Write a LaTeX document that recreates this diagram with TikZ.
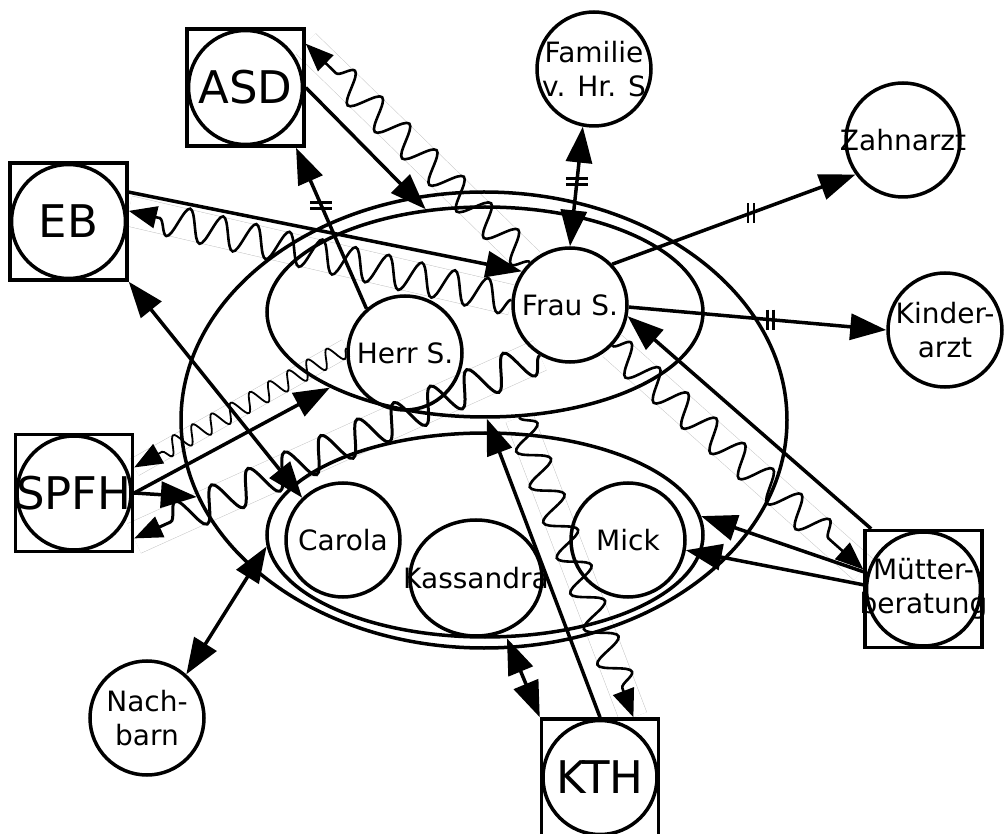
\documentclass[tikz,border=0pt]{standalone}
\usepackage{fontspec}
\setmainfont{DejaVu Sans}
\usetikzlibrary{positioning, calc, shapes.geometric, arrows.meta, decorations.pathmorphing, backgrounds}

\begin{document}
\begin{tikzpicture}[x=1pt, y=-1pt, line width=3.5pt]
    % Define styles
    \tikzstyle{person} = [circle, draw, minimum size=114pt, inner sep=-20pt, align=center, font=\fontsize{28}{34}\selectfont]
    \tikzstyle{amt} = [rectangle, draw, minimum size=117pt, inner sep=-10pt, align=center, font=\fontsize{45}{50}\selectfont,
        path picture={\draw[line width=3.5pt] (path picture bounding box.center) circle (57pt);}]
    \tikzstyle{group} = [ellipse, draw, inner sep=0pt]
    \tikzstyle{rel} = [-{Triangle[length=36pt, width=26pt]}]
    \tikzstyle{both} = [{Triangle[length=36pt, width=26pt]}-{Triangle[length=36pt, width=26pt]}]
    \tikzstyle{conflict} = [decorate, line width=2.6pt, -{Triangle[length=28pt, width=22pt]},
        decoration={snake, amplitude=15pt, segment length=38pt, post length=28pt}]
    \tikzstyle{band} = [draw=gray!45, line width=0.5pt, double=white, double distance=28pt]
    \tikzstyle{bar} = [line width=3pt]

    \useasboundingbox (0,0) rectangle (1005,834);

    % Place groups
    \node [group, minimum width=606pt, minimum height=456pt] (familie) at (484,420) {};
    \node [group, minimum width=436pt, minimum height=210pt] (eltern) at (485,312) {};
    \node [group, minimum width=436pt, minimum height=204pt] (kinder) at (485,535) {};

    % Place nodes
    \node [person] (frau) at (570,305) {Frau S.};
    \node [person] (herr) at (405,353) {Herr S.};
    \node [person] (carola) at (343,540) {Carola};
    \node [ellipse, draw, minimum width=132pt, minimum height=116pt, inner xsep=-30pt, inner ysep=0pt,
        font=\fontsize{28}{34}\selectfont] (kassandra) at (476,578) {Kassandra};
    \node [person] (mick) at (628,540) {Mick};
    \node [person] (famhrs) at (594,69) {Familie\\v. Hr. S};
    \node [person] (zahnarzt) at (903,140) {Zahnarzt};
    \node [person] (kinderarzt) at (945,330) {Kinder-\\arzt};
    \node [person] (nachbarn) at (147,718) {Nach-\\barn};

    \node [amt] (asd) at (245.5,87.5) {ASD};
    \node [amt] (eb) at (68.5,221.5) {EB};
    \node [amt] (spfh) at (74,493) {SPFH};
    \node [amt] (kth) at (600,777.5) {KTH};
    \node [amt, font=\fontsize{28}{34}\selectfont] (mb) at (923.5,589) {Mütter-\\beratung};

    % Draw connections as arrows
    \draw [rel] (asd.east) -- (eltern.120);
    \draw [rel] (herr.131) -- coordinate[pos=0.64] (m1) (asd.-50);
    \draw [both] (famhrs.-101) -- coordinate[pos=0.46] (m2) (frau.north);
    \draw [rel] (frau.44) -- coordinate[pos=0.57] (m3) (zahnarzt.-144);
    \draw [rel] (frau.-2) -- coordinate[pos=0.55] (m4) (kinderarzt.west);
    \draw [rel] (eb.26) -- (frau.145);
    \draw [both] (eb.south east) -- (carola.134);
    \draw [rel] (spfh.east) -- (eltern.206);
    \draw [rel] (spfh.east) -- (familie.195);
    \draw [rel] (mb.131) -- (frau.-11);
    \draw [rel] (mb.164) -- (kinder.5);
    \draw [rel] (mb.176) -- (mick.-10);
    \draw [rel] (kth.north) -- (eltern.-89);
    \draw [both] (kinder.-78) -- (kth.north west);
    \draw [both] (nachbarn.48) -- (kinder.183);

    % Marks on the arrows
    \draw [bar] ($(m1)+(-11,-3)$) -- +(22,0) ($(m1)+(-11,3)$) -- +(22,0);
    \draw [bar] ($(m2)+(-11,-3)$) -- +(22,0) ($(m2)+(-11,3)$) -- +(22,0);
    \draw [bar, line width=2.6pt] ($(m3)+(-3,-10)$) -- +(0,20) ($(m3)+(3,-10)$) -- +(0,20);
    \draw [bar, line width=2.6pt] ($(m4)+(-3,-10)$) -- +(0,20) ($(m4)+(3,-10)$) -- +(0,20);

    % Conflict lines
    \draw [conflict] (frau.133) -- (asd.36);
    \draw [conflict, decoration={amplitude=16pt, segment length=34pt}] (frau.175) -- (eb.10);
    \draw [conflict, line width=1.8pt, decoration={amplitude=9pt, segment length=22pt}] (herr.175) -- (spfh.23);
    \draw [conflict, line width=3pt, decoration={amplitude=17pt, segment length=40pt}] (frau.-121) -- (spfh.-37);
    \draw [conflict] (frau.-44) -- (mb.162);
    \draw [conflict] (eltern.-72) -- (kth.61);

    \begin{scope}[on background layer]
        \draw [band] (frau.133) -- (asd.36);
        \draw [band, double distance=30pt] (frau.175) -- (eb.10);
        \draw [band, double distance=18pt] (herr.175) -- (spfh.23);
        \draw [band, double distance=32pt] (frau.-121) -- (spfh.-37);
        \draw [band] (frau.-44) -- (mb.162);
        \draw [band] (eltern.-72) -- (kth.61);
    \end{scope}
\end{tikzpicture}
\end{document}
